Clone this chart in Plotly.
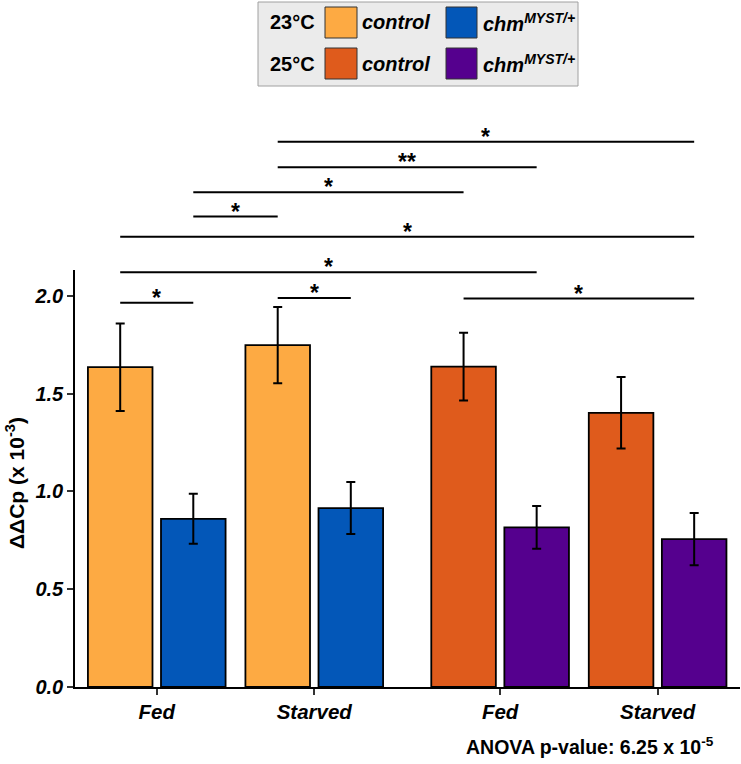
import plotly.graph_objects as go

# ---------------- data ----------------
categories = ["Fed", "Starved", "Fed", "Starved"]
group_x = [1.0, 2.0, 3.18, 4.18]

ctrl23 = [1.635, 1.748]
ctrl23_err = [0.224, 0.195]
mut23 = [0.860, 0.915]
mut23_err = [0.128, 0.133]
ctrl25 = [1.638, 1.402]
ctrl25_err = [0.173, 0.183]
mut25 = [0.816, 0.756]
mut25_err = [0.109, 0.133]

# significance comparisons: (bar_i, bar_j, height, label); bars 0..7 left to right
sig_pairs = [
    (0, 1, 1.965, "*"),
    (2, 3, 1.989, "*"),
    (4, 7, 1.986, "*"),
    (0, 5, 2.121, "*"),
    (0, 7, 2.302, "*"),
    (1, 2, 2.405, "*"),
    (1, 4, 2.529, "*"),
    (2, 5, 2.657, "**"),
    (2, 7, 2.788, "*"),
]

anova_text = "ANOVA p-value: 6.25 x 10<sup>-5</sup>"
y_title = "ΔΔCp (x 10<sup>-3</sup>)"
y_ticks = [0.0, 0.5, 1.0, 1.5, 2.0]

# ---------------- styling ----------------
C_CTRL23 = "#FDAA43"
C_MUT23 = "#0357B8"
C_CTRL25 = "#DF5B1C"
C_MUT25 = "#55008E"
FONT = "Liberation Sans"

W, H = 741, 764
ML, MR, MT, MB = 75, 1, 270, 77
XR = [0.481, 4.703]
YMAX = 2.132
OFF = 0.232
BW = 0.41

plot_w = W - ML - MR
plot_h = H - MT - MB


def px(xp):
    return (xp - ML) / plot_w


def py(yp):
    return (H - MB - yp) / plot_h


fig = go.Figure()

series = [
    (ctrl23, ctrl23_err, C_CTRL23, [group_x[0] - OFF, group_x[1] - OFF]),
    (mut23, mut23_err, C_MUT23, [group_x[0] + OFF, group_x[1] + OFF]),
    (ctrl25, ctrl25_err, C_CTRL25, [group_x[2] - OFF, group_x[3] - OFF]),
    (mut25, mut25_err, C_MUT25, [group_x[2] + OFF, group_x[3] + OFF]),
]
for vals, errs, col, xs in series:
    fig.add_trace(go.Bar(
        x=xs, y=vals, width=BW,
        marker=dict(color=col, line=dict(color="black", width=1.8)),
        error_y=dict(type="data", array=errs, visible=True,
                     color="black", thickness=2, width=4.5),
        showlegend=False,
    ))

bar_x = [
    group_x[0] - OFF, group_x[0] + OFF, group_x[1] - OFF, group_x[1] + OFF,
    group_x[2] - OFF, group_x[2] + OFF, group_x[3] - OFF, group_x[3] + OFF,
]

shapes = []
annotations = []
for i, j, h, lab in sig_pairs:
    shapes.append(dict(type="line", xref="x", yref="paper",
                       x0=bar_x[i], x1=bar_x[j], y0=h / YMAX, y1=h / YMAX,
                       line=dict(color="black", width=2)))
    annotations.append(dict(xref="x", yref="paper",
                            x=(bar_x[i] + bar_x[j]) / 2, y=h / YMAX,
                            text=lab, showarrow=False, xanchor="center",
                            yanchor="bottom", yshift=-10,
                            font=dict(family=FONT, size=23, color="black",
                                      weight="bold")))

# y-axis title
annotations.append(dict(xref="paper", yref="paper", x=px(15), y=py(483),
                        text=y_title, textangle=-90, showarrow=False,
                        xanchor="center", yanchor="middle",
                        font=dict(family=FONT, size=21, color="black", weight="bold")))
# ANOVA
annotations.append(dict(xref="paper", yref="paper", x=px(716), y=py(746),
                        text=anova_text, showarrow=False,
                        xanchor="right", yanchor="middle",
                        font=dict(family=FONT, size=19.5, color="black", weight="bold")))

# legend box
shapes.append(dict(type="rect", xref="paper", yref="paper",
                   x0=px(258), x1=px(578), y0=py(86), y1=py(2),
                   fillcolor="#EBEBEB", line=dict(color="#A0A0A0", width=1)))
legend_rows = [("23°C", C_CTRL23, C_MUT23, 22.5), ("25°C", C_CTRL25, C_MUT25, 63.5)]
for lab, c1, c2, yc in legend_rows:
    for (xa, xb), col in (((325, 357), c1), ((446, 477), c2)):
        shapes.append(dict(type="rect", xref="paper", yref="paper",
                           x0=px(xa), x1=px(xb), y0=py(yc + 15.5), y1=py(yc - 15.5),
                           fillcolor=col, line=dict(color="#333333", width=1)))
    annotations.append(dict(xref="paper", yref="paper", x=px(268), y=py(yc),
                            text=lab, showarrow=False, xanchor="left", yanchor="middle",
                            font=dict(family=FONT, size=20, color="black", weight="bold")))
    annotations.append(dict(xref="paper", yref="paper", x=px(360), y=py(yc),
                            text="control", showarrow=False, xanchor="left", yanchor="middle",
                            font=dict(family=FONT, size=20, color="black", weight="bold",
                                      style="italic")))
    annotations.append(dict(xref="paper", yref="paper", x=px(481), y=py(yc),
                            text="chm<sup>MYST/+</sup>", showarrow=False, xanchor="left",
                            yanchor="middle",
                            font=dict(family=FONT, size=20, color="black", weight="bold",
                                      style="italic")))

fig.update_layout(
    width=W, height=H,
    margin=dict(l=ML, r=MR, t=MT, b=MB, pad=0),
    plot_bgcolor="white", paper_bgcolor="white",
    barmode="overlay",
    shapes=shapes, annotations=annotations,
    xaxis=dict(range=XR, tickvals=group_x, ticktext=categories,
               showgrid=False, zeroline=False, showline=True,
               linecolor="black", linewidth=1.5, ticks="outside",
               ticklen=6, tickwidth=1.5, tickcolor="#333333",
               tickfont=dict(family=FONT, size=20.5, color="black",
                             weight="bold", style="italic")),
    yaxis=dict(range=[0, YMAX], tickvals=y_ticks, tickformat=".1f",
               showgrid=False, zeroline=False, showline=True,
               linecolor="black", linewidth=1.5, ticks="outside",
               ticklen=6, tickwidth=1.5, tickcolor="#333333",
               tickfont=dict(family=FONT, size=20, color="black",
                             weight="bold", style="italic")),
)

fig.write_html("out.html")
